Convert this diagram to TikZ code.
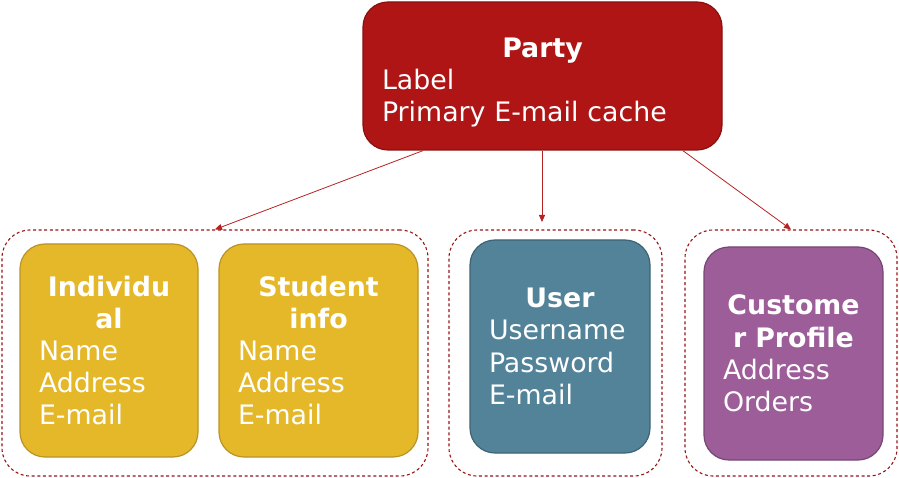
\documentclass[tikz,border=0pt]{standalone}
\usepackage{fontspec}
\setmainfont{DejaVu Sans}
\usetikzlibrary{arrows.meta}
\definecolor{partyred}{RGB}{176,21,21}
\definecolor{partyedge}{RGB}{138,16,16}
\definecolor{gold}{RGB}{229,184,42}
\definecolor{goldedge}{RGB}{185,147,38}
\definecolor{teal}{RGB}{82,131,153}
\definecolor{tealedge}{RGB}{62,99,116}
\definecolor{plum}{RGB}{156,93,153}
\definecolor{plumedge}{RGB}{118,70,116}
\definecolor{grpred}{RGB}{150,22,22}
\definecolor{linkred}{RGB}{180,34,34}
\newcommand\cardtitle[1]{\makebox[\linewidth]{\bfseries #1}}
\tikzset{
	every path/.style = {line width=1.2pt},
	card/.style = {rectangle, rounded corners=25pt, text=white, align=left,
		text width=#1, inner xsep=19pt, inner ysep=6pt, minimum height=213pt,
		font=\fontsize{26.8}{32.2}\selectfont},
	group/.style = {draw=grpred, rectangle, rounded corners=28pt, line width=1.1pt,
		dash pattern=on 3pt off 2.6pt}
}
\begin{document}
\begin{tikzpicture}[x=1pt,y=-1pt,
	link/.style={draw=linkred, line width=0.8pt, -{Triangle[length=7pt,width=6pt]}}]
	\useasboundingbox (0,0) rectangle (899,478);
	\node (grpperson) [group, minimum width=426pt, minimum height=246pt] at (215,353) {};
	\node (grpuser) [group, minimum width=213pt, minimum height=246pt] at (555.5,353) {};
	\node (grpcustomer) [group, minimum width=212pt, minimum height=246pt] at (791,353) {};
	\node (party) [card=321pt, minimum height=148pt, fill=partyred, draw=partyedge]
		at (542.5,76) {\cardtitle{\rule{0pt}{32pt}Party}\\Label\\Primary E-mail cache};
	\node (individual) [card=140pt, fill=gold, draw=goldedge]
		at (109,350.5) {\cardtitle{Individu}\\\cardtitle{al}\\Name\\Address\\E-mail};
	\node (student) [card=161pt, fill=gold, draw=goldedge]
		at (318.5,350.5) {\cardtitle{Student}\\\cardtitle{info}\\Name\\Address\\E-mail};
	\node (user) [card=142pt, fill=teal, draw=tealedge]
		at (560,346.5) {\cardtitle{User}\\Username\\Password\\E-mail};
	\node (customer) [card=141pt, fill=plum, draw=plumedge]
		at (793.5,353.5) {\cardtitle{Custome}\\\cardtitle{r Profile}\\Address\\Orders};
	\coordinate (userin) at (542,222);
	\draw [link] (party.212.5) -- (grpperson.north);
	\draw [link] (party.south -| userin) -- (userin);
	\draw [link] (party.-28.5) -- (grpcustomer.north);
\end{tikzpicture}
\end{document}
